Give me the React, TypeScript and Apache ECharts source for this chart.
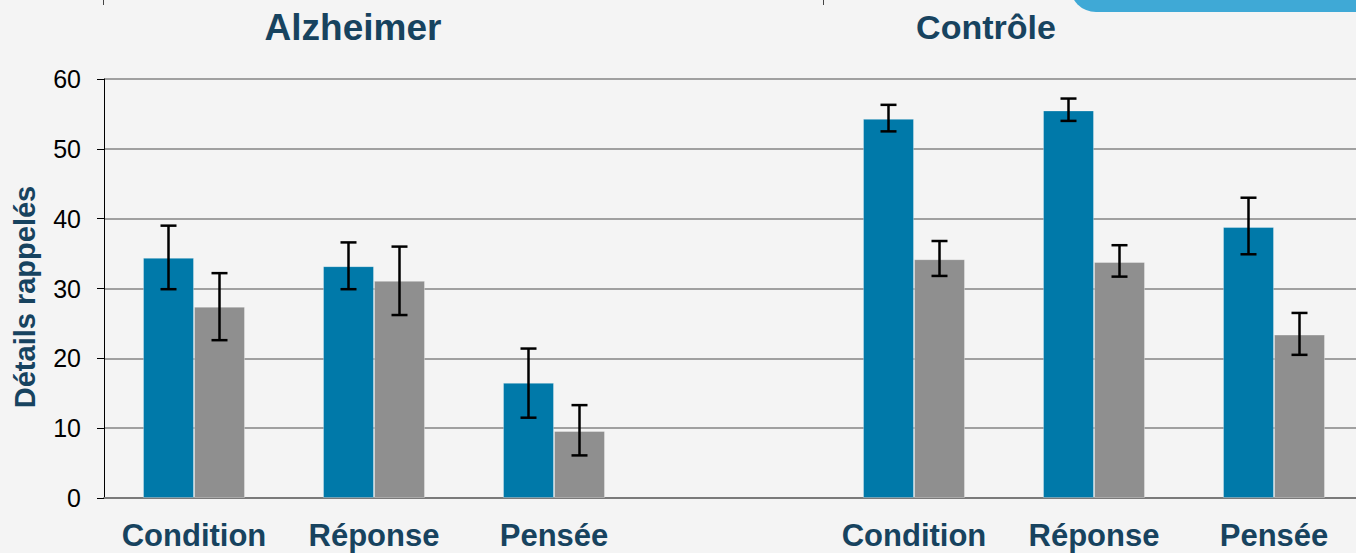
import React, { useEffect, useRef } from "react";
import * as echarts from "echarts";

const categories = ["Condition", "Réponse", "Pensée", "", "Condition", "Réponse", "Pensée"];
const yTicks = [0, 10, 20, 30, 40, 50, 60];

const blueMeans = [34.4, 33.2, 16.5, null, 54.3, 55.5, 38.8];
const blueLow = [29.9, 29.9, 11.5, null, 52.5, 54.0, 34.9];
const blueHigh = [39.0, 36.6, 21.4, null, 56.3, 57.2, 43.0];

const grayMeans = [27.4, 31.1, 9.6, null, 34.2, 33.8, 23.4];
const grayLow = [22.6, 26.2, 6.1, null, 31.8, 31.7, 20.5];
const grayHigh = [32.2, 36.0, 13.3, null, 36.8, 36.2, 26.5];

const groupTitles = ["Alzheimer", "Contrôle"];
const yAxisTitle = "Détails rappelés";

const DARK = "#17435f";
const BLUE = "#0079a9";
const GRAY = "#8f8f8f";

function errData(low: (number | null)[], high: (number | null)[]) {
  const out: any[] = [];
  low.forEach((l, i) => {
    const h = high[i];
    if (l != null && h != null) out.push([i, l, h]);
  });
  return out;
}

function makeErrRender(offset: number) {
  return (params: any, api: any) => {
    const idx = api.value(0);
    const lo = api.coord([idx, api.value(1)]);
    const hi = api.coord([idx, api.value(2)]);
    const x = lo[0] + offset;
    const cap = 8;
    const style = { stroke: "#000", lineWidth: 2.5 };
    return {
      type: "group",
      children: [
        { type: "line", shape: { x1: x, y1: lo[1], x2: x, y2: hi[1] }, style },
        { type: "line", shape: { x1: x - cap, y1: hi[1], x2: x + cap, y2: hi[1] }, style },
        { type: "line", shape: { x1: x - cap, y1: lo[1], x2: x + cap, y2: lo[1] }, style },
      ],
    };
  };
}

export default function App() {
  const ref = useRef<HTMLDivElement>(null);
  useEffect(() => {
    if (!ref.current) return;
    const chart = echarts.init(ref.current, undefined, { renderer: "svg" });
    const option: any = {
      animation: false,
      backgroundColor: "#f4f4f4",
      grid: { left: 104, top: 79, width: 1260, height: 419 },
      xAxis: {
        type: "category",
        data: categories,
        axisLine: { show: true, lineStyle: { color: "#7a7a7a", width: 2 } },
        axisTick: { show: false },
        axisLabel: {
          color: DARK,
          fontFamily: "Liberation Sans, Arial, sans-serif",
          fontWeight: "bold",
          fontSize: 31,
          margin: 22,
          interval: 0,
        },
        splitLine: { show: false },
      },
      yAxis: {
        type: "value",
        min: yTicks[0],
        max: yTicks[yTicks.length - 1],
        interval: 10,
        axisLine: { show: true, lineStyle: { color: "#000", width: 1 } },
        axisTick: { show: true, inside: false, length: 7, lineStyle: { color: "#000" } },
        axisLabel: {
          color: "#000",
          fontFamily: "Liberation Sans, Arial, sans-serif",
          fontSize: 25,
          margin: 23,
        },
        splitLine: { show: true, lineStyle: { color: "#858585", width: 1.5 } },
      },
      series: [
        {
          type: "bar",
          data: blueMeans,
          barWidth: 51,
          barGap: "0%",
          itemStyle: { color: BLUE, borderColor: "rgba(255,255,255,0.3)", borderWidth: 1 },
          z: 2,
        },
        {
          type: "bar",
          data: grayMeans,
          barWidth: 51,
          barGap: "0%",
          itemStyle: { color: GRAY, borderColor: "rgba(255,255,255,0.3)", borderWidth: 1 },
          z: 2,
        },
        {
          type: "custom",
          renderItem: makeErrRender(-25.5),
          data: errData(blueLow, blueHigh),
          encode: { x: 0, y: [1, 2] },
          z: 5,
        },
        {
          type: "custom",
          renderItem: makeErrRender(25.5),
          data: errData(grayLow, grayHigh),
          encode: { x: 0, y: [1, 2] },
          z: 5,
        },
      ],
      graphic: [
        {
          type: "rect",
          shape: { x: 1070, y: -40, width: 320, height: 52, r: 30 },
          style: { fill: "#3fa9d6" },
          z: 10,
        },
        { type: "line", shape: { x1: 103.5, y1: 0, x2: 103.5, y2: 5 }, style: { stroke: "#444", lineWidth: 1 } },
        { type: "line", shape: { x1: 823.5, y1: 0, x2: 823.5, y2: 5 }, style: { stroke: "#444", lineWidth: 1 } },
        {
          type: "text",
          x: 353,
          y: 27,
          style: {
            text: groupTitles[0],
            fill: DARK,
            font: "bold 37px 'Liberation Sans', Arial, sans-serif",
            textAlign: "center",
            textVerticalAlign: "middle",
          },
        },
        {
          type: "text",
          x: 986,
          y: 27,
          style: {
            text: groupTitles[1],
            fill: DARK,
            font: "bold 34px 'Liberation Sans', Arial, sans-serif",
            textAlign: "center",
            textVerticalAlign: "middle",
          },
        },
        {
          type: "text",
          x: 25,
          y: 297,
          rotation: Math.PI / 2,
          style: {
            text: yAxisTitle,
            fill: DARK,
            font: "bold 29px 'Liberation Sans', Arial, sans-serif",
            textAlign: "center",
            textVerticalAlign: "middle",
          },
        },
      ],
    };
    chart.setOption(option);
    return () => chart.dispose();
  }, []);
  return (
    <div style={{ position: "absolute", left: 0, top: 0, width: 1356, height: 553, overflow: "hidden" }}>
      <div ref={ref} style={{ width: 1372, height: 553 }} />
    </div>
  );
}
